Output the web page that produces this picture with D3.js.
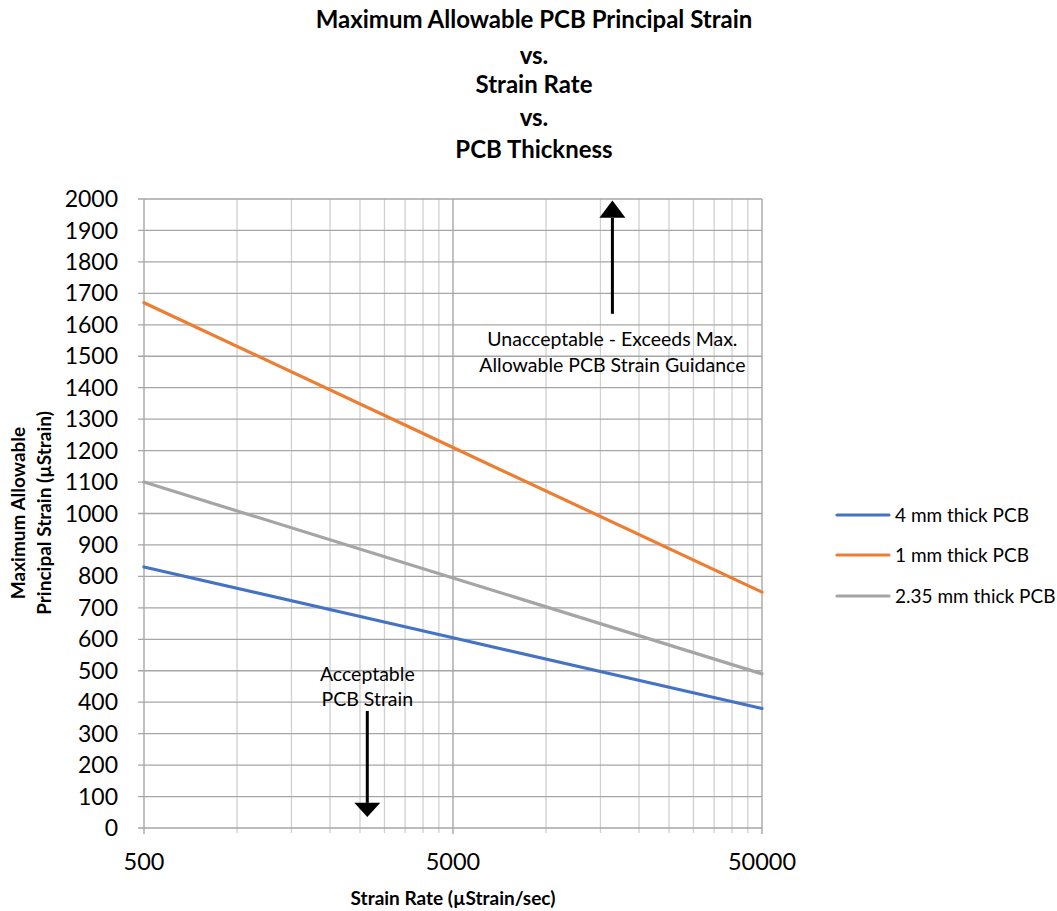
<!DOCTYPE html>
<html lang="en">
<head>
<meta charset="utf-8">
<style>
    body { margin: 0; background: #fff; }
    svg text { font-family: Lato, "Open Sans", sans-serif; fill: #000; }
    .title { font-weight: bold; font-size: 24px; }
    .axis-title { font-weight: bold; font-size: 19px; }
    .tick-y { font-size: 23px; }
    .tick-x { font-size: 23.5px; }
    .note { font-size: 19.5px; }
    .legend { font-size: 19px; }
</style>
<script src="https://d3js.org/d3.v7.min.js"></script>
</head>
<body>
<svg width="1057" height="911"></svg>
<script>
// strain rate (uStrain/sec) at which each curve is read
var rates = [500, 5000, 50000];
var series = ["4 mm thick PCB", "1 mm thick PCB", "2.35 mm thick PCB"];
var thick4 = [830, 605, 380];
var thick1 = [1670, 1210, 750];
var thick235 = [1100, 795, 490];
var colors = ["#4472c4", "#ed7d31", "#a5a5a5"];
var yTicks = d3.range(0, 2001, 100);
var xLabels = [500, 5000, 50000];
// minor grid positions excel puts on a log axis starting at 500
var xMinor = [1000, 1500, 2000, 2500, 3000, 3500, 4000, 4500,
              10000, 15000, 20000, 25000, 30000, 35000, 40000, 45000];
var titleLines = ["Maximum Allowable PCB Principal Strain", "vs.", "Strain Rate", "vs.", "PCB Thickness"];

var svg = d3.select("svg");
var pLeft = 144, pRight = 762, pTop = 199, pBottom = 828;

var x = d3.scaleLog().domain([500, 50000]).range([pLeft, pRight]);
var y = d3.scaleLinear().domain([0, 2000]).range([pBottom, pTop]);

// title
svg.selectAll(".title").data(titleLines).enter().append("text")
    .attr("class", "title")
    .attr("x", 534)
    .attr("y", function(d, i) { return [28, 64, 93, 126, 158][i]; })
    .attr("text-anchor", "middle")
    .text(function(d) { return d; });

var g = svg.append("g");

// vertical grid
g.selectAll(".vminor").data(xMinor).enter().append("line")
    .attr("x1", function(d) { return x(d); }).attr("x2", function(d) { return x(d); })
    .attr("y1", pTop).attr("y2", pBottom + 5)
    .attr("stroke", "#d0d0d0").attr("stroke-width", 1.3);
g.selectAll(".vmajor").data(xLabels).enter().append("line")
    .attr("x1", function(d) { return x(d); }).attr("x2", function(d) { return x(d); })
    .attr("y1", pTop).attr("y2", pBottom + 6)
    .attr("stroke", "#a0a0a0").attr("stroke-width", 1.3);

// horizontal grid
g.selectAll(".hgrid").data(yTicks).enter().append("line")
    .attr("x1", pLeft - 6).attr("x2", pRight)
    .attr("y1", function(d) { return y(d); }).attr("y2", function(d) { return y(d); })
    .attr("stroke", "#a6a6a6").attr("stroke-width", 1.3);

// y tick labels
g.selectAll(".tick-y").data(yTicks).enter().append("text")
    .attr("class", "tick-y")
    .attr("x", pLeft - 26)
    .attr("y", function(d) { return y(d); })
    .attr("dy", "0.35em")
    .attr("text-anchor", "end")
    .text(function(d) { return d; });

// x tick labels
g.selectAll(".tick-x").data(xLabels).enter().append("text")
    .attr("class", "tick-x")
    .attr("x", function(d) { return x(d); })
    .attr("y", 870)
    .attr("text-anchor", "middle")
    .text(function(d) { return d; });

// series lines
var data = [thick4, thick1, thick235];
var line = d3.line()
    .x(function(d, i) { return x(rates[i]); })
    .y(function(d) { return y(d); });
g.selectAll(".series").data(data).enter().append("path")
    .attr("d", line)
    .attr("fill", "none")
    .attr("stroke", function(d, i) { return colors[i]; })
    .attr("stroke-width", 3.2)
    .attr("stroke-linecap", "round");

// axis titles
svg.append("text").attr("class", "axis-title")
    .attr("x", 453).attr("y", 905).attr("text-anchor", "middle")
    .text("Strain Rate (µStrain/sec)");
svg.append("text").attr("class", "axis-title")
    .attr("transform", "translate(25,513) rotate(-90)")
    .attr("text-anchor", "middle")
    .text("Maximum Allowable");
svg.append("text").attr("class", "axis-title")
    .attr("transform", "translate(51,513) rotate(-90)")
    .attr("text-anchor", "middle")
    .text("Principal Strain (µStrain)");

// annotation arrows
var upX = x(16400), downX = x(2640);
g.append("line")
    .attr("x1", upX).attr("x2", upX)
    .attr("y1", y(1635)).attr("y2", y(1940))
    .attr("stroke", "#000").attr("stroke-width", 3);
g.append("path")
    .attr("d", "M" + (upX - 13) + "," + y(1940) + " L" + upX + "," + y(1995) + " L" + (upX + 13) + "," + y(1940) + " Z")
    .attr("fill", "#000");
g.append("line")
    .attr("x1", downX).attr("x2", downX)
    .attr("y1", y(372)).attr("y2", y(80))
    .attr("stroke", "#000").attr("stroke-width", 3);
g.append("path")
    .attr("d", "M" + (downX - 13) + "," + y(80) + " L" + downX + "," + y(35) + " L" + (downX + 13) + "," + y(80) + " Z")
    .attr("fill", "#000");

g.append("text").attr("class", "note")
    .attr("x", upX).attr("y", 346).attr("text-anchor", "middle")
    .text("Unacceptable - Exceeds Max.");
g.append("text").attr("class", "note")
    .attr("x", upX).attr("y", 372).attr("text-anchor", "middle")
    .text("Allowable PCB Strain Guidance");
g.append("text").attr("class", "note")
    .attr("x", downX).attr("y", 681).attr("text-anchor", "middle")
    .text("Acceptable");
g.append("text").attr("class", "note")
    .attr("x", downX).attr("y", 706).attr("text-anchor", "middle")
    .text("PCB Strain");

// legend
var lg = svg.append("g");
var legY = [515, 555, 596];
series.forEach(function(s, i) {
    lg.append("line")
        .attr("x1", 837).attr("x2", 889)
        .attr("y1", legY[i]).attr("y2", legY[i])
        .attr("stroke", colors[i]).attr("stroke-width", 3.2)
        .attr("stroke-linecap", "round");
    lg.append("text").attr("class", "legend")
        .attr("x", 895).attr("y", legY[i]).attr("dy", "0.35em")
        .text(s);
});
</script>
</body>
</html>
